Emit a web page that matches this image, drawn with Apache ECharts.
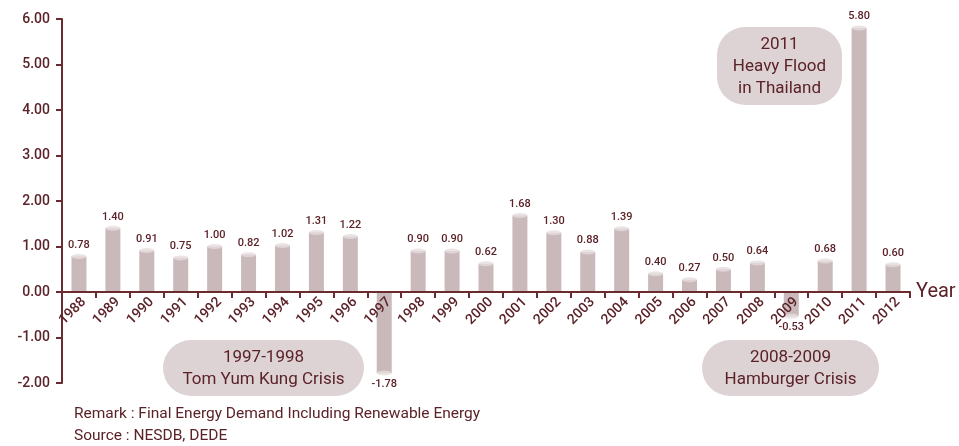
<!DOCTYPE html>
<html><head><meta charset="utf-8">
<script src="https://cdn.jsdelivr.net/npm/echarts@6/dist/echarts.min.js"></script>
<style>html,body{margin:0;padding:0;background:#fff}#c{width:959px;height:446px}</style>
</head><body><div id="c"></div>
<script>
const years = ['1988','1989','1990','1991','1992','1993','1994','1995','1996','1997','1998','1999','2000','2001','2002','2003','2004','2005','2006','2007','2008','2009','2010','2011','2012'];
const growth = [0.78,1.40,0.91,0.75,1.00,0.82,1.02,1.31,1.22,-1.78,0.90,0.90,0.62,1.68,1.30,0.88,1.39,0.40,0.27,0.50,0.64,-0.53,0.68,5.80,0.60];
const yTicks = [-2,-1,0,1,2,3,4,5,6];
const notes = ['Remark : Final Energy Demand Including Renewable Energy','Source : NESDB, DEDE'];
const boxes = [
  {text:'1997-1998\nTom Yum Kung Crisis', x:163, y:340, w:201, h:56},
  {text:'2008-2009\nHamburger Crisis', x:702, y:340, w:177, h:56},
  {text:'2011\nHeavy Flood\nin Thailand', x:717, y:27, w:125, h:78}
];
const dark = '#5b2228', axisC = '#6b2a2e', barC = '#c9b9ba';
const font = 'Roboto';
const yMin = yTicks[0], yMax = yTicks[yTicks.length-1];
const gridTop = 19, gridBottom = 63, H = 446;
const zeroOffset = -((H - gridBottom - gridTop) * (0 - yMin) / (yMax - yMin));
const chart = echarts.init(document.getElementById('c'));
const graphic = [];
boxes.forEach(b => {
  graphic.push({type:'rect', shape:{x:b.x,y:b.y,width:b.w,height:b.h,r:28}, style:{fill:'#ddd3d4'}, z:1});
  graphic.push({type:'text', x:b.x+b.w/2, y:b.y+b.h/2+1, style:{text:b.text, fill:dark, font:'17px Roboto', align:'center', verticalAlign:'middle', lineHeight:22}, z:2});
});
notes.forEach((t,i)=>graphic.push({type:'text', x:74, y:406+i*22, style:{text:t, fill:dark, font:'15.5px Roboto'}}));
chart.setOption({
  animation:false,
  grid:{left:62, right:49, top:gridTop, bottom:gridBottom},
  graphic: graphic,
  xAxis:{type:'category', data:years, name:'Year', nameLocation:'end', nameGap:6, z:10,
    position:'bottom', offset:zeroOffset,
    nameTextStyle:{color:dark, fontSize:20, fontFamily:font, verticalAlign:'middle'},
    axisLine:{lineStyle:{color:axisC, width:2}, onZero:false},
    axisTick:{show:true, inside:false, length:6, lineStyle:{color:axisC, width:2}},
    axisLabel:{rotate:45, color:dark, fontSize:14, fontWeight:500, fontFamily:font, margin:3, interval:0, verticalAlign:'top'}},
  yAxis:{type:'value', min:yMin, max:yMax, interval:1,
    axisLine:{show:true, lineStyle:{color:axisC, width:2}},
    axisTick:{show:true, length:6, lineStyle:{color:axisC, width:2}},
    splitLine:{show:false},
    axisLabel:{color:dark, fontSize:14, fontWeight:500, fontFamily:font, margin:12, formatter:v=>v.toFixed(2)}},
  series:[
    {type:'bar', data:growth.map(v => v < 0 ? {value:v, label:{position:'bottom'}} : v), barWidth:15, itemStyle:{color:barC}, z:2,
     label:{show:true, fontSize:11, fontFamily:font, fontWeight:500, color:dark, distance:6,
       position:'top', formatter:p=>p.value.toFixed(2)}},
    {type:'scatter', data:growth, symbol:'circle', symbolSize:[15,5], itemStyle:{color:'#e6dcdd'}, z:3, silent:true}
  ]
});
</script></body></html>
